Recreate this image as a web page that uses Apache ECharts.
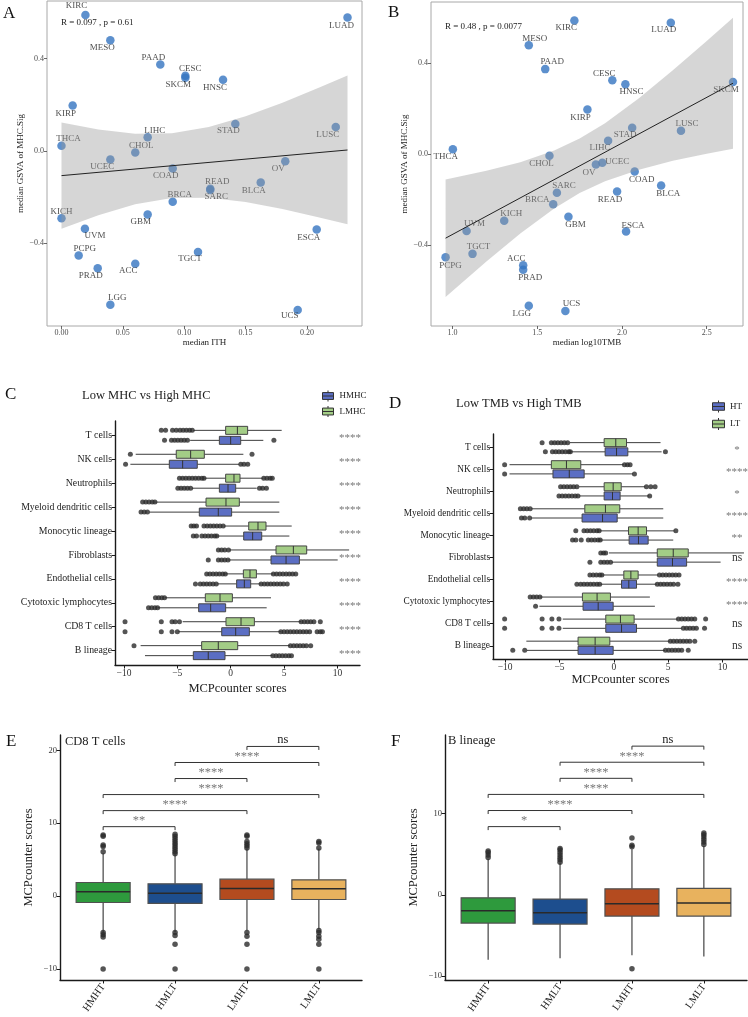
<!DOCTYPE html>
<html><head><meta charset="utf-8">
<script src="https://cdn.jsdelivr.net/npm/echarts@6/dist/echarts.min.js"></script>
<style>html,body{margin:0;padding:0;background:#fff}#c{width:748px;height:1017px}</style>
</head><body><div id="c"></div><script>
// ---------- Panels A/B data ----------
const cancers = ['KIRC','LUAD','MESO','PAAD','CESC','SKCM','HNSC','KIRP','STAD','LUSC','LIHC','THCA','CHOL','UCEC','OV','COAD','READ','SARC','BLCA','BRCA','KICH','GBM','UVM','ESCA','PCPG','TGCT','ACC','PRAD','LGG','UCS'];
const gsva = [0.588,0.578,0.479,0.374,0.325,0.317,0.308,0.197,0.116,0.103,0.059,0.022,-0.007,-0.037,-0.045,-0.076,-0.164,-0.169,-0.137,-0.220,-0.292,-0.275,-0.337,-0.340,-0.453,-0.438,-0.488,-0.508,-0.666,-0.689];
const ith = [0.0195,0.233,0.0398,0.0805,0.1009,0.1009,0.1316,0.0091,0.1416,0.2234,0.0702,0.000,0.0601,0.0398,0.1823,0.0906,0.1212,0.1212,0.1623,0.0906,0.000,0.0702,0.0191,0.2079,0.014,0.1112,0.0601,0.0295,0.0398,0.1924];
const tmb = [1.719,2.288,1.450,1.547,1.943,2.655,2.020,1.796,2.060,2.348,1.918,1.002,1.572,1.884,1.846,2.075,1.971,1.616,2.231,1.594,1.305,1.684,1.083,2.024,0.959,1.118,1.417,1.417,1.450,1.666];
const fitA = {x:[0,0.233], y:[-0.107,0.004]};
const bandAx = [0,0.03,0.06,0.09,0.12,0.15,0.18,0.21,0.233];
const bandAlo = [-0.337,-0.278,-0.231,-0.204,-0.203,-0.221,-0.251,-0.288,-0.318];
const bandAhi = [0.123,0.093,0.074,0.076,0.103,0.150,0.209,0.274,0.326];
const fitB = {x:[0.959,2.655], y:[-0.369,0.312]};
const bandBx = [0.959,1.2,1.4,1.6,1.75,1.9,2.1,2.3,2.5,2.655];
const bandBlo = [-0.627,-0.471,-0.349,-0.239,-0.171,-0.119,-0.068,-0.029,0.002,0.024];
const bandBhi = [-0.111,-0.073,-0.035,0.016,0.069,0.136,0.246,0.369,0.498,0.600];
const statA = 'R = 0.097 , p = 0.61';
const statB = 'R = 0.48 , p = 0.0077';
const ithTicks = [0,0.05,0.10,0.15,0.20];
const tmbTicks = [1.0,1.5,2.0,2.5];
const gsvaTicks = [-0.4,0,0.4];

// ---------- Panels C/D data ----------
const cellTypes = ['T cells','NK cells','Neutrophils','Myeloid dendritic cells','Monocytic lineage','Fibroblasts','Endothelial cells','Cytotoxic lymphocytes','CD8 T cells','B lineage'];
const scoreTicks = [-10,-5,0,5,10];
// [min, Q1, median, Q3, max]
const boxLMHC = [[-3.5,-0.47,0.63,1.59,4.78],[-8.9,-5.1,-3.75,-2.47,1.19],[-2.44,-0.47,0.31,0.875,3.06],[-7.06,-2.31,-0.44,0.81,4.56],[-0.625,1.69,2.56,3.31,5.72],[-0.125,4.25,5.875,7.125,11.1],[-0.5,1.19,1.81,2.41,4.0],[-6.16,-2.375,-1.0,0.16,3.78],[-4.5,-0.44,0.97,2.22,6.6],[-8.44,-2.72,-1.16,0.66,5.56]];
const boxHMHC = [[-3.8,-1.06,0,0.94,3.06],[-9.4,-5.75,-4.5,-3.13,0.81],[-3.63,-1.06,-0.25,0.47,2.44],[-7.625,-2.94,-1.16,0.09,4.56],[-1.25,1.22,2.06,2.91,5.5],[-0.22,3.78,5.19,6.44,10.03],[-1.25,0.56,1.28,1.875,2.81],[-6.81,-3.0,-1.875,-0.47,3.375],[-4.9,-0.84,0.47,1.75,4.7],[-8.03,-3.5,-2.1,-0.53,3.94]];
const outLMHC = [[-6.5,-6.1,-5.45,-5.1,-4.75,-4.45,-4.15,-3.85,-3.6],[-9.4,2.0],[-4.8,-4.5,-4.2,-3.9,-3.6,-3.3,-3.0,-2.7,-2.5,3.1,3.4,3.7,3.9],[-8.25,-7.95,-7.65,-7.35,-7.1],[-3.7,-3.45,-3.2,-2.5,-2.2,-1.9,-1.6,-1.3,-1.0,-0.7],[-1.15,-0.85,-0.55,-0.2],[-2.25,-1.95,-1.65,-1.35,-1.05,-0.75,-0.5,4.0,4.3,4.6,4.9,5.2,5.5,5.8,6.1],[-7.05,-6.75,-6.45,-6.2],[-9.9,-6.5,-5.5,-5.2,-4.8,6.6,6.9,7.2,7.5,7.8,8.4],[-9.06,5.6,5.9,6.2,6.5,6.8,7.1,7.5]];
const outHMHC = [[-6.2,-5.55,-5.25,-4.95,-4.65,-4.35,-4.05,4.05],[-9.85,0.95,1.25,1.6],[-4.95,-4.65,-4.35,-4.05,-3.75,2.7,3.0,3.35],[-8.4,-8.1,-7.8],[-3.5,-3.2,-2.7,-2.4,-2.1,-1.8,-1.5,-1.3],[-2.1,-1.15,-0.85,-0.55,-0.25],[-3.3,-2.85,-2.55,-2.25,-1.95,-1.65,-1.35,2.85,3.15,3.45,3.75,4.05,4.35,4.65,4.95,5.3],[-7.7,-7.4,-7.1,-6.85],[-9.9,-6.5,-5.5,-5.0,4.7,5.0,5.3,5.6,5.9,6.2,6.5,6.8,7.1,7.4,8.1,8.4,8.6],[3.95,4.25,4.55,4.85,5.15,5.45,5.7]];
const sigC = ['****','****','****','****','****','****','****','****','****','****'];
const boxLT = [[-4.05,-0.89,0.18,1.17,4.3],[-9.6,-5.75,-4.36,-3.04,0.92],[-3.2,-0.89,-0.06,0.68,2.89],[-7.6,-2.67,-0.77,0.55,4.55],[-1.29,1.35,2.24,3.01,5.6],[-0.45,4.0,5.47,6.85,11.98],[-1.04,0.92,1.57,2.24,4.1],[-6.76,-2.89,-1.54,-0.31,3.32],[-4.7,-0.74,0.61,1.87,5.9],[-8.05,-3.29,-1.72,-0.37,5.16]];
const boxHT = [[-3.96,-0.8,0.25,1.29,4.4],[-9.6,-5.6,-4.1,-2.73,1.78],[-3.2,-0.89,-0.12,0.58,3.26],[-7.6,-2.92,-1.04,0.31,4.55],[-1.2,1.41,2.27,3.16,5.47],[-0.2,4.0,5.4,6.7,9.83],[-1.23,0.71,1.38,2.09,3.95],[-6.85,-2.83,-1.44,-0.06,3.78],[-4.7,-0.74,0.71,2.09,6.25],[-8.0,-3.29,-1.72,-0.06,4.7]];
const outLT = [[-6.6,-5.75,-5.45,-5.15,-4.85,-4.55,-4.25],[-10.05,0.98,1.25,1.5],[-4.9,-4.6,-4.3,-4.0,-3.7,-3.4,3.0,3.4,3.8],[-8.6,-8.3,-8.0,-7.7],[-3.5,-2.75,-2.45,-2.15,-1.85,-1.55,-1.35,5.71],[-1.2,-0.95,-0.75],[-2.2,-1.9,-1.6,-1.3,-1.1,4.2,4.5,4.8,5.1,5.4,5.7,6.0],[-7.7,-7.4,-7.1,-6.8],[-10.05,-6.6,-5.7,-5.05,5.95,6.25,6.55,6.85,7.15,7.45,8.45],[5.2,5.5,5.8,6.1,6.4,6.7,7.0,7.45]];
const outHT = [[-6.3,-5.65,-5.35,-5.05,-4.75,-4.45,-4.15,-4.0,4.75],[-10.05,1.9],[-5.05,-4.75,-4.45,-4.15,-3.85,-3.55,-3.3,3.3],[-8.5,-8.2,-7.75],[-3.8,-3.5,-3.0,-2.35,-2.05,-1.75,-1.45,-1.25],[-2.2,-1.2,-0.9,-0.6,-0.3],[-3.4,-3.05,-2.75,-2.45,-2.15,-1.85,-1.55,-1.3,4.0,4.3,4.6,4.9,5.2,5.5,5.9],[-7.2],[-10.05,-6.6,-5.7,-5.05,6.4,6.7,7.0,7.3,7.6,8.35],[-9.3,-8.2,4.75,5.05,5.35,5.65,5.95,6.25,6.85]];
const sigD = ['*','****','*','****','**','ns','****','****','ns','ns'];

// ---------- Panels E/F data ----------
const groups = ['HMHT','HMLT','LMHT','LMLT'];
const boxE = [[-4.9,-0.87,0.59,1.87,5.9],[-4.9,-1.0,0.41,1.69,5.7],[-4.7,-0.46,1.05,2.33,6.5],[-4.5,-0.46,1.0,2.24,6.5]];
const outE = [[6.1,6.8,7.0,8.2,8.4,-5.0,-5.3,-5.6,-10],[5.8,6.1,6.4,6.7,7.0,7.3,7.6,7.9,8.2,8.5,-5.0,-5.4,-6.6,-10],[6.6,6.9,7.2,7.5,8.2,8.4,-5.0,-5.5,-6.6,-10],[6.6,7.3,7.5,-4.7,-5.0,-5.5,-5.9,-6.6,-10]];
const boxF = [[-8.0,-3.48,-1.97,-0.37,4.4],[-7.8,-3.6,-2.21,-0.53,3.9],[-7.45,-2.62,-1.1,0.74,5.6],[-7.6,-2.62,-1.02,0.78,6.0]];
const outF = [[4.6,4.9,5.2,5.4],[4.0,4.3,4.6,4.9,5.2,5.5,5.7],[5.9,6.1,7.0,-9.1],[6.2,6.5,6.8,7.1,7.4,7.6]];
const compsE = [[1,2,'**'],[1,3,'****'],[1,4,'****'],[2,3,'****'],[2,4,'****'],[3,4,'ns']];
const compsF = [[1,2,'*'],[1,3,'****'],[1,4,'****'],[2,3,'****'],[2,4,'****'],[3,4,'ns']];
const ticksE = [-10,0,10,20];
const ticksF = [-10,0,10];

// ---------- styling ----------
const SERIF = "'Liberation Serif','Times New Roman',serif";
const groupColors = ['#2E9A3D','#1D4E8E','#B44B1F','#E8B25E'];
const GREEN = '#A3CD86', BLUE = '#5B6EC3', PT = '#3574C1';
const labA = {KIRC:[-9,-9],LUAD:[-6,8],MESO:[-8,7],PAAD:[-7,-7],CESC:[5,-7],SKCM:[-7,7],HNSC:[-8,8],KIRP:[-7,8],STAD:[-7,7],LUSC:[-8,8],LIHC:[7,-7],THCA:[7,-7],CHOL:[6,-7],UCEC:[-8,7],OV:[-7,7],COAD:[-7,7],READ:[7,-7],SARC:[6,7],BLCA:[-7,8],BRCA:[7,-7],KICH:[0,-7],GBM:[-7,7],UVM:[10,7],ESCA:[-8,8],PCPG:[6,-7],TGCT:[-8,7],ACC:[-7,7],PRAD:[-7,7],LGG:[7,-7],UCS:[-8,6]};
const labB = {KIRC:[-8,7],LUAD:[-7,7],MESO:[6,-7],PAAD:[7,-7],CESC:[-8,-7],HNSC:[6,8],SKCM:[-7,8],KIRP:[-7,8],LUSC:[6,-7],STAD:[-7,7],LIHC:[-8,7],THCA:[-7,7],CHOL:[-8,8],UCEC:[15,-1],OV:[-7,8],COAD:[7,8],READ:[-7,8],BLCA:[7,8],SARC:[7,-7],BRCA:[-16,-5],GBM:[7,8],KICH:[7,-7],ESCA:[7,-6],UVM:[8,-7],TGCT:[6,-7],PCPG:[5,8],ACC:[-7,-7],PRAD:[7,8],LGG:[-7,8],UCS:[6,-7]};

function fmt(d){ return v => (v < -1e-9 ? '\u2212' : '') + Math.abs(v).toFixed(d); }

function scatterAB(xi, xs, labs){
  return {type:'scatter', xAxisIndex:xi, yAxisIndex:xi, z:2, symbolSize:8.5, itemStyle:{color:PT}, silent:true,
    data: cancers.map((c,i)=>({name:c, value:[xs[i], gsva[i]], label:{offset:labs[c]}})),
    label:{show:true, position:'inside', formatter:'{b}', color:'#222', fontFamily:SERIF, fontSize:9, textBorderWidth:0}};
}
function bandSeries(xi, bx, lo, hi){
  return {type:'custom', xAxisIndex:xi, yAxisIndex:xi, z:3, silent:true, data:[[bx[0], lo[0]]],
    renderItem:(p, api)=>{
      const pts = [];
      for (let i=0;i<bx.length;i++) pts.push(api.coord([bx[i], hi[i]]));
      for (let i=bx.length-1;i>=0;i--) pts.push(api.coord([bx[i], lo[i]]));
      return {type:'polygon', shape:{points:pts}, style:{fill:'#999999', opacity:0.4}};
    }};
}
function lineSeries(xi, f){
  return {type:'line', xAxisIndex:xi, yAxisIndex:xi, z:4, silent:true, symbol:'none', lineStyle:{color:'#222', width:1}, data:f.x.map((x,i)=>[x,f.y[i]])};
}
function hBox(name, xi, boxes, color, off){
  return {type:'custom', name, xAxisIndex:xi, yAxisIndex:xi, z:3, silent:true, itemStyle:{color, borderColor:'#444', borderWidth:1},
    encode:{x:[1,2,3,4,5], y:0},
    data: boxes.map((b,i)=>[i+1].concat(b)),
    renderItem:(p, api)=>{
      const cat = api.value(0);
      const yc = api.coord([0, cat])[1] + off;
      const X = k => api.coord([api.value(k), cat])[0];
      const mn=X(1), q1=X(2), md=X(3), q3=X(4), mx=X(5), h=4;
      const ls = {stroke:'#3d3d3d', lineWidth:1};
      return {type:'group', children:[
        {type:'line', shape:{x1:mn,y1:yc,x2:q1,y2:yc}, style:ls},
        {type:'line', shape:{x1:q3,y1:yc,x2:mx,y2:yc}, style:ls},
        {type:'rect', shape:{x:q1,y:yc-h,width:q3-q1,height:2*h}, style:{fill:color, stroke:'#444', lineWidth:1}},
        {type:'line', shape:{x1:md,y1:yc-h,x2:md,y2:yc+h}, style:{stroke:'#333', lineWidth:1}}
      ]};
    }};
}
function hOut(xi, outs, off){
  return {type:'scatter', xAxisIndex:xi, yAxisIndex:xi, z:4, silent:true, symbolSize:5, symbolOffset:[0, off], itemStyle:{color:'#2b2b2b'},
    data: outs.flatMap((arr,i)=>arr.map(v=>[v, i+1]))};
}
function sigSeries(xi, labels, fromRight){
  return {type:'custom', xAxisIndex:xi, yAxisIndex:xi, z:5, silent:true, encode:{x:0, y:1},
    data: labels.map((s,i)=>[0, i+1]),
    renderItem:(p, api)=>{
      const cs = p.coordSys; const y = api.coord([0, api.value(1)])[1];
      const s = labels[p.dataIndex]; const star = s !== 'ns';
      return {type:'text', x: cs.x + cs.width - fromRight, y: y + (star ? 3 : 0),
        style:{text:s, align:'center', verticalAlign:'middle', fill: star ? '#777' : '#333', fontSize: star ? 11 : 11.5, fontFamily:SERIF}};
    }};
}
function vBox(xi, boxes){
  return {type:'custom', xAxisIndex:xi, yAxisIndex:xi, z:3, silent:true, encode:{x:0, y:[1,2,3,4,5]},
    data: boxes.map((b,i)=>[i+1].concat(b)),
    renderItem:(p, api)=>{
      const cat = api.value(0);
      const xc = api.coord([cat, 0])[0];
      const Y = k => api.coord([cat, api.value(k)])[1];
      const mn=Y(1), q1=Y(2), md=Y(3), q3=Y(4), mx=Y(5), w=27;
      const ls = {stroke:'#444', lineWidth:1.2};
      return {type:'group', children:[
        {type:'line', shape:{x1:xc,y1:mn,x2:xc,y2:q1}, style:ls},
        {type:'line', shape:{x1:xc,y1:q3,x2:xc,y2:mx}, style:ls},
        {type:'rect', shape:{x:xc-w,y:q3,width:2*w,height:q1-q3}, style:{fill:groupColors[p.dataIndex], stroke:'#505050', lineWidth:1.2}},
        {type:'line', shape:{x1:xc-w,y1:md,x2:xc+w,y2:md}, style:{stroke:'#2a2a2a', lineWidth:1.5}}
      ]};
    }};
}
function vOut(xi, outs){
  return {type:'scatter', xAxisIndex:xi, yAxisIndex:xi, z:4, silent:true, symbolSize:5.5, itemStyle:{color:'#2b2b2b'},
    data: outs.flatMap((arr,i)=>arr.map(v=>[i+1, v]))};
}
function brackets(xi, comps, base, step){
  return {type:'custom', xAxisIndex:xi, yAxisIndex:xi, z:5, silent:true, encode:{x:[0,1], y:2},
    data: comps.map((c,k)=>[c[0], c[1], base + step*k]),
    renderItem:(p, api)=>{
      const yv = api.value(2);
      const a = api.coord([api.value(0), yv]), b = api.coord([api.value(1), yv]);
      const s = comps[p.dataIndex][2]; const star = s !== 'ns'; const t = 3.5;
      return {type:'group', children:[
        {type:'polyline', shape:{points:[[a[0],a[1]+t],[a[0],a[1]],[b[0],b[1]],[b[0],b[1]+t]]}, style:{stroke:'#333', lineWidth:1, fill:null}},
        {type:'text', x:(a[0]+b[0])/2, y: a[1] + (star ? 1 : 0),
          style:{text:s, align:'center', verticalAlign:'bottom', fill: star ? '#777' : '#222', fontSize: 12.5, fontFamily:SERIF}}
      ]};
    }};
}

const lblAB = {fontFamily:SERIF, fontSize:8, color:'#4d4d4d'};
const nameAB = {fontFamily:SERIF, fontSize:9, color:'#222'};
const tickAB = {show:true, length:3, lineStyle:{color:'#444', width:0.8}};
const noLine = {show:false, onZero:false};
const axLine = {show:true, onZero:false, lineStyle:{color:'#1a1a1a', width:1.4}};
const tickK = {show:true, length:3.5, lineStyle:{color:'#1a1a1a', width:1}};
const lblK = {fontFamily:SERIF, fontSize:9.5, color:'#333'};
const nameK = {fontFamily:SERIF, fontSize:12.5, color:'#222'};
const boxIcon = 'path://M8,0V3M8,13V16M0,3H16V13H0ZM0,8H16';
const letter = {fontFamily:SERIF, fontSize:17, fontWeight:'normal', color:'#111'};
const ttl = {fontFamily:SERIF, fontSize:12.5, fontWeight:'normal', color:'#222'};

const option = {
  animation:false,
  backgroundColor:'#fff',
  title:[
    {text:'A', left:3, top:5, padding:0, textStyle:letter},
    {text:'B', left:388, top:4, padding:0, textStyle:letter},
    {text:'C', left:5, top:386, padding:0, textStyle:letter},
    {text:'D', left:389, top:395, padding:0, textStyle:letter},
    {text:'E', left:6, top:733, padding:0, textStyle:letter},
    {text:'F', left:391, top:733, padding:0, textStyle:letter},
    {text:statA, left:61, top:18, padding:0, textStyle:{fontFamily:SERIF, fontSize:9, fontWeight:'normal', color:'#222'}},
    {text:statB, left:445, top:22.5, padding:0, textStyle:{fontFamily:SERIF, fontSize:9, fontWeight:'normal', color:'#222'}},
    {text:'Low MHC vs High MHC', left:82, top:389, padding:0, textStyle:ttl},
    {text:'Low TMB vs High TMB', left:456, top:397, padding:0, textStyle:ttl},
    {text:'CD8 T cells', left:65, top:735, padding:0, textStyle:ttl},
    {text:'B lineage', left:448, top:734, padding:0, textStyle:ttl}
  ],
  legend:[
    {data:['HMHC','LMHC'], orient:'vertical', left:317, top:385, itemWidth:13, itemHeight:11, itemGap:3.5, icon:boxIcon,
      itemStyle:{borderColor:'#333', borderWidth:1}, textStyle:{fontFamily:SERIF, fontSize:9, color:'#222'}, selectedMode:false},
    {data:['HT','LT'], orient:'vertical', left:707, top:395, itemWidth:13, itemHeight:12, itemGap:4.5, icon:boxIcon,
      itemStyle:{borderColor:'#333', borderWidth:1}, textStyle:{fontFamily:SERIF, fontSize:9, color:'#222'}, selectedMode:false}
  ],
  grid:[
    {left:47, top:1, width:315, height:325, show:true, borderColor:'#a8a8a8', borderWidth:1, backgroundColor:'transparent'},
    {left:431, top:2, width:312, height:324, show:true, borderColor:'#a8a8a8', borderWidth:1, backgroundColor:'transparent'},
    {left:115, top:421, width:245, height:244},
    {left:493, top:434, width:255, height:225},
    {left:60, top:735, width:302, height:245},
    {left:445, top:735, width:302, height:245}
  ],
  xAxis:[
    {gridIndex:0, type:'value', min:-0.0118, max:0.2448, splitLine:{show:false}, axisLine:noLine,
      axisTick:Object.assign({customValues:ithTicks}, tickAB), axisLabel:Object.assign({customValues:ithTicks, formatter:fmt(2), margin:3}, lblAB),
      name:'median ITH', nameLocation:'middle', nameGap:12, nameTextStyle:nameAB},
    {gridIndex:1, type:'value', min:0.873, max:2.714, splitLine:{show:false}, axisLine:noLine,
      axisTick:Object.assign({customValues:tmbTicks}, tickAB), axisLabel:Object.assign({customValues:tmbTicks, formatter:fmt(1), margin:3}, lblAB),
      name:'median log10TMB', nameLocation:'middle', nameGap:12, nameTextStyle:nameAB},
    {gridIndex:2, type:'value', min:-10.84, max:12.12, splitLine:{show:false}, axisLine:axLine,
      axisTick:Object.assign({customValues:scoreTicks}, tickK), axisLabel:Object.assign({customValues:scoreTicks, formatter:fmt(0), margin:3}, lblK),
      name:'MCPcounter scores', nameLocation:'middle', nameGap:17, nameTextStyle:nameK},
    {gridIndex:3, type:'value', min:-11.12, max:12.35, splitLine:{show:false}, axisLine:axLine,
      axisTick:Object.assign({customValues:scoreTicks}, tickK), axisLabel:Object.assign({customValues:scoreTicks, formatter:fmt(0), margin:3}, lblK),
      name:'MCPcounter scores', nameLocation:'middle', nameGap:14, nameTextStyle:nameK},
    {gridIndex:4, type:'value', min:0.4, max:4.6, splitLine:{show:false}, axisLine:axLine,
      axisTick:Object.assign({customValues:[1,2,3,4]}, tickK), axisLabel:Object.assign({customValues:[1,2,3,4], formatter:v=>groups[Math.round(v)-1], rotate:55, margin:5}, lblK, {fontSize:10.5, color:'#222'})},
    {gridIndex:5, type:'value', min:0.4, max:4.6, splitLine:{show:false}, axisLine:axLine,
      axisTick:Object.assign({customValues:[1,2,3,4]}, tickK), axisLabel:Object.assign({customValues:[1,2,3,4], formatter:v=>groups[Math.round(v)-1], rotate:55, margin:5}, lblK, {fontSize:10.5, color:'#222'})}
  ],
  yAxis:[
    {gridIndex:0, type:'value', min:-0.758, max:0.649, splitLine:{show:false}, axisLine:noLine,
      axisTick:Object.assign({customValues:gsvaTicks}, tickAB), axisLabel:Object.assign({customValues:gsvaTicks, formatter:fmt(1), margin:3}, lblAB),
      name:'median GSVA of MHC.Sig', nameLocation:'middle', nameGap:21, nameTextStyle:nameAB},
    {gridIndex:1, type:'value', min:-0.755, max:0.669, splitLine:{show:false}, axisLine:noLine,
      axisTick:Object.assign({customValues:gsvaTicks}, tickAB), axisLabel:Object.assign({customValues:gsvaTicks, formatter:fmt(1), margin:3}, lblAB),
      name:'median GSVA of MHC.Sig', nameLocation:'middle', nameGap:20, nameTextStyle:nameAB},
    {gridIndex:2, type:'value', min:0.4, max:10.6, inverse:true, splitLine:{show:false}, axisLine:axLine,
      axisTick:Object.assign({customValues:[1,2,3,4,5,6,7,8,9,10]}, tickK),
      axisLabel:Object.assign({customValues:[1,2,3,4,5,6,7,8,9,10], formatter:v=>cellTypes[Math.round(v)-1], margin:3}, lblK, {fontSize:9.8, color:'#222'})},
    {gridIndex:3, type:'value', min:0.4, max:10.6, inverse:true, splitLine:{show:false}, axisLine:axLine,
      axisTick:Object.assign({customValues:[1,2,3,4,5,6,7,8,9,10]}, tickK),
      axisLabel:Object.assign({customValues:[1,2,3,4,5,6,7,8,9,10], formatter:v=>cellTypes[Math.round(v)-1], margin:3}, lblK, {fontSize:9.3, color:'#222'})},
    {gridIndex:4, type:'value', min:-11.5, max:22.1, splitLine:{show:false}, axisLine:axLine,
      axisTick:Object.assign({customValues:ticksE}, tickK), axisLabel:Object.assign({customValues:ticksE, formatter:fmt(0), margin:3}, lblK, {fontSize:8.5}),
      name:'MCPcounter scores', nameLocation:'middle', nameGap:25, nameTextStyle:nameK},
    {gridIndex:5, type:'value', min:-10.48, max:19.66, splitLine:{show:false}, axisLine:axLine,
      axisTick:Object.assign({customValues:ticksF}, tickK), axisLabel:Object.assign({customValues:ticksF, formatter:fmt(0), margin:3}, lblK, {fontSize:8.5}),
      name:'MCPcounter scores', nameLocation:'middle', nameGap:25, nameTextStyle:nameK}
  ],
  series:[
    scatterAB(0, ith, labA), bandSeries(0, bandAx, bandAlo, bandAhi), lineSeries(0, fitA),
    scatterAB(1, tmb, labB), bandSeries(1, bandBx, bandBlo, bandBhi), lineSeries(1, fitB),
    hBox('LMHC', 2, boxLMHC, GREEN, -5), hBox('HMHC', 2, boxHMHC, BLUE, 5),
    hOut(2, outLMHC, -5), hOut(2, outHMHC, 5), sigSeries(2, sigC, 10),
    hBox('LT', 3, boxLT, GREEN, -4.6), hBox('HT', 3, boxHT, BLUE, 4.6),
    hOut(3, outLT, -4.6), hOut(3, outHT, 4.6), sigSeries(3, sigD, 11),
    vBox(4, boxE), vOut(4, outE), brackets(4, compsE, 9.53, 2.2),
    vBox(5, boxF), vOut(5, outF), brackets(5, compsF, 8.39, 1.98)
  ]
};
const chart = echarts.init(document.getElementById('c'), null, {renderer:'canvas'});
chart.setOption(option);
</script></body></html>
